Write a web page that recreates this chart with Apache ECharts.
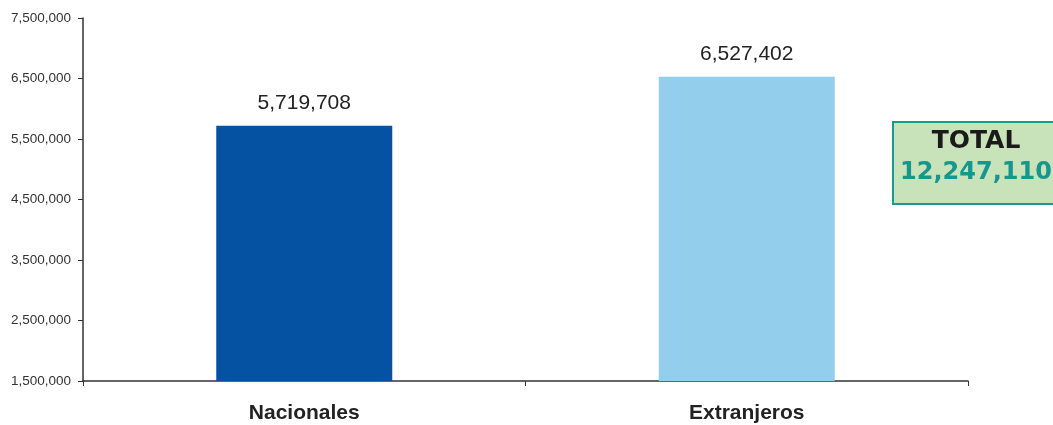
<!DOCTYPE html>
<html><head><meta charset="utf-8">
<script src="https://cdn.jsdelivr.net/npm/echarts@6/dist/echarts.min.js"></script>
<style>html,body{margin:0;padding:0;background:#fff}#c{width:1053px;height:425px}</style>
</head><body><div id="c"></div>
<script>
var categories = ['Nacionales', 'Extranjeros'];
var values = [5719708, 6527402];
var colors = ['#0552A3', '#93CFEC'];
var yBase = 1500000;
var yTop = 7500000;
var yStep = 1000000;

function fmt(n){ return n.toString().replace(/\B(?=(\d{3})+(?!\d))/g, ','); }
var total = values.reduce(function(a,b){return a+b;},0);

var chart = echarts.init(document.getElementById('c'));
chart.setOption({
  animation:false,
  grid:{left:83,right:85,top:18,bottom:44,containLabel:false},
  xAxis:{type:'category',data:categories,
    axisLine:{lineStyle:{color:'#333',width:1.5}},
    axisTick:{show:true,length:5,lineStyle:{color:'#333'}},
    axisLabel:{color:'#222',fontSize:21,fontWeight:'bold',fontFamily:'Liberation Sans, Arial',margin:22}},
  yAxis:{type:'value',min:0,max:yTop-yBase,interval:yStep,
    axisLine:{show:true,lineStyle:{color:'#333',width:1.5}},
    axisTick:{show:true,length:5,inside:false,lineStyle:{color:'#333'}},
    splitLine:{show:false},
    axisLabel:{color:'#333',fontSize:13.5,fontFamily:'Liberation Sans, Arial',margin:12,
      formatter:function(v){return fmt(v+yBase);}}},
  series:[{type:'bar',barWidth:176,
    data:values.map(function(v,i){return {value:v-yBase,itemStyle:{color:colors[i]}};}),
    label:{show:true,position:'top',distance:12,color:'#222',fontSize:21,fontFamily:'Liberation Sans, Arial',
      formatter:function(p){return fmt(values[p.dataIndex]);}}}],
  graphic:[{type:'group',left:892,top:121,children:[
    {type:'rect',shape:{x:0,y:0,width:170,height:82},style:{fill:'#C8E3B9',stroke:'#1A9A8F',lineWidth:2}},
    {type:'text',x:83,y:7,style:{text:'TOTAL',fill:'#1a1a1a',font:'bold 25px DejaVu Sans',textAlign:'center'}},
    {type:'text',x:83,y:39,style:{text:fmt(total),fill:'#16968C',font:'bold 24px DejaVu Sans',textAlign:'center'}}
  ]}]
});
</script></body></html>
